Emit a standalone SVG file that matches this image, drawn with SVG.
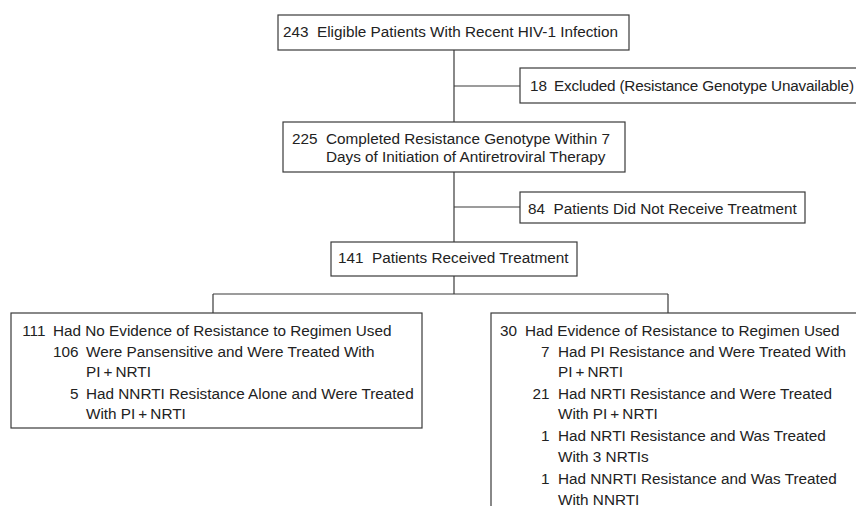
<svg xmlns="http://www.w3.org/2000/svg" width="856" height="506" viewBox="0 0 856 506">
<style>
.box{fill:#fff;stroke:#3a3a3a;stroke-width:1.2}
.ln{stroke:#3a3a3a;stroke-width:1.2;fill:none}
text{font-family:"Liberation Sans",Arial,sans-serif;font-size:15.3px;fill:#222}
.n{text-anchor:end}
</style>
<rect width="856" height="506" fill="#fff"/>
<g id="connectors">
<line class="ln" x1="454" y1="50" x2="454" y2="122"/>
<line class="ln" x1="454" y1="86" x2="520" y2="86"/>
<line class="ln" x1="454" y1="172" x2="454" y2="242"/>
<line class="ln" x1="454" y1="207" x2="520" y2="207"/>
<line class="ln" x1="454" y1="276" x2="454" y2="294"/>
<line class="ln" x1="213" y1="294" x2="668" y2="294"/>
<line class="ln" x1="213" y1="294" x2="213" y2="313"/>
<line class="ln" x1="668" y1="294" x2="668" y2="313"/>
</g>
<g id="eligible">
<rect class="box" x="278" y="15" width="351" height="35"/>
<text y="37"><tspan x="283">243</tspan><tspan x="317">Eligible Patients With Recent HIV-1 Infection</tspan></text>
</g>
<g id="excluded">
<rect class="box" x="520" y="68" width="400" height="35"/>
<text y="91"><tspan x="530">18</tspan><tspan x="554" textLength="300" lengthAdjust="spacing">Excluded (Resistance Genotype Unavailable)</tspan></text>
</g>
<g id="completed">
<rect class="box" x="283" y="122" width="342" height="50"/>
<text y="144"><tspan x="292">225</tspan><tspan x="326">Completed Resistance Genotype Within 7</tspan></text>
<text x="326" y="162">Days of Initiation of Antiretroviral Therapy</text>
</g>
<g id="no-treatment">
<rect class="box" x="520" y="192" width="285" height="31"/>
<text y="214"><tspan x="528">84</tspan><tspan x="553.5">Patients Did Not Receive Treatment</tspan></text>
</g>
<g id="received">
<rect class="box" x="331" y="242" width="246" height="34"/>
<text y="263"><tspan x="338">141</tspan><tspan x="372">Patients Received Treatment</tspan></text>
</g>
<g id="no-resistance">
<rect class="box" x="11" y="313" width="411" height="115"/>
<text class="n" x="45.5" y="336">111</text>
<text x="53" y="336">Had No Evidence of Resistance to Regimen Used</text>
<text class="n" x="78.5" y="356.5">106</text>
<text x="86" y="356.5">Were Pansensitive and Were Treated With</text>
<text x="86" y="377">PI&#8201;+&#8201;NRTI</text>
<text class="n" x="78.5" y="398.5">5</text>
<text x="86" y="398.5">Had NNRTI Resistance Alone and Were Treated</text>
<text x="86" y="419">With PI&#8201;+&#8201;NRTI</text>
</g>
<g id="resistance">
<rect class="box" x="491" y="313" width="400" height="300"/>
<text class="n" x="517" y="336">30</text>
<text x="525" y="336">Had Evidence of Resistance to Regimen Used</text>
<text class="n" x="549.5" y="356.5">7</text>
<text x="558" y="356.5">Had PI Resistance and Were Treated With</text>
<text x="558" y="377">PI&#8201;+&#8201;NRTI</text>
<text class="n" x="549.5" y="398.5">21</text>
<text x="558" y="398.5">Had NRTI Resistance and Were Treated</text>
<text x="558" y="419">With PI&#8201;+&#8201;NRTI</text>
<text class="n" x="549.5" y="441">1</text>
<text x="558" y="441">Had NRTI Resistance and Was Treated</text>
<text x="558" y="462">With 3 NRTIs</text>
<text class="n" x="549.5" y="484">1</text>
<text x="558" y="484">Had NNRTI Resistance and Was Treated</text>
<text x="558" y="504.5">With NNRTI</text>
</g>
</svg>
